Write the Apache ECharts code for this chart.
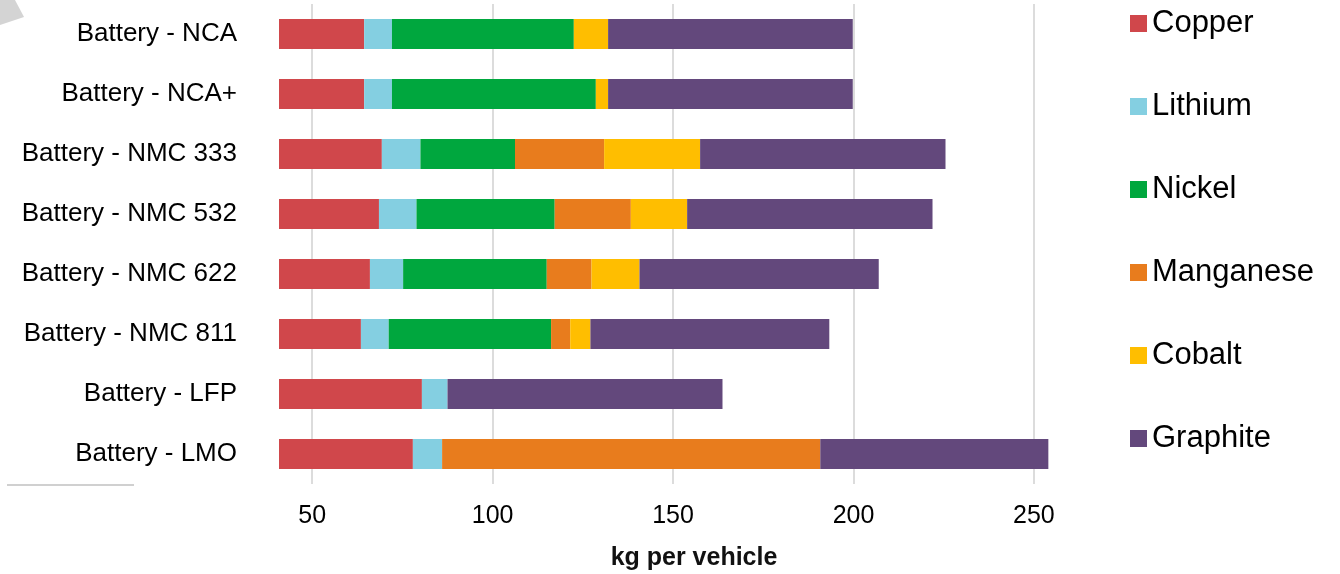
<!DOCTYPE html>
<html>
<head>
<meta charset="utf-8">
<script src="https://cdn.jsdelivr.net/npm/echarts@6/dist/echarts.min.js"></script>
<style>
  html, body { margin: 0; padding: 0; background: #fff; }
  #main { width: 1340px; height: 574px; }
</style>
</head>
<body>
<div id="main"></div>
<script>
var categories = ['Battery - NCA', 'Battery - NCA+', 'Battery - NMC 333', 'Battery - NMC 532',
  'Battery - NMC 622', 'Battery - NMC 811', 'Battery - LFP', 'Battery - LMO'];

// kg per vehicle, one value per battery type (stacked)
var copper    = [64.4, 64.4, 69.3, 68.5, 66.0, 63.5, 80.4, 77.9];
var lithium   = [7.7, 7.7, 10.7, 10.4, 9.2, 7.7, 7.1, 8.1];
var nickel    = [50.4, 56.5, 26.2, 38.3, 39.8, 45.0, 0, 0];
var manganese = [0, 0, 24.7, 21.1, 12.4, 5.3, 0, 104.8];
var cobalt    = [9.5, 3.4, 26.6, 15.6, 13.3, 5.6, 0, 0];
var graphite  = [67.8, 67.8, 68.0, 68.0, 66.3, 66.2, 76.2, 63.2];

var seriesNames = ['Copper', 'Lithium', 'Nickel', 'Manganese', 'Cobalt', 'Graphite'];
var seriesData = [copper, lithium, nickel, manganese, cobalt, graphite];
var colors = ['#d0474b', '#84cfe1', '#00a73e', '#e87c1d', '#ffbe00', '#63487c'];

var FONT = 'Liberation Sans, Arial, Helvetica, sans-serif';

var myChart = echarts.init(document.getElementById('main'));

var series = seriesNames.map(function (name, i) {
  return {
    name: name,
    type: 'bar',
    stack: 'total',
    barWidth: 30,
    data: seriesData[i]
  };
});

var option = {
  animation: false,
  color: colors,
  textStyle: { fontFamily: FONT },
  grid: {
    left: 279,
    right: 270,
    top: 4,
    bottom: 90,
    outerBoundsMode: 'none'
  },
  legend: {
    orient: 'vertical',
    left: 1125,
    top: 3,
    icon: 'rect',
    itemWidth: 17,
    itemHeight: 17,
    itemGap: 52,
    textStyle: {
      fontFamily: FONT,
      fontSize: 31,
      lineHeight: 30,
      color: '#000'
    },
    data: seriesNames
  },
  xAxis: {
    type: 'value',
    min: 40.8,
    max: 260,
    name: 'kg per vehicle',
    nameLocation: 'middle',
    nameGap: 62,
    nameTextStyle: {
      fontFamily: FONT,
      fontSize: 25,
      fontWeight: 'bold',
      color: '#111',
      padding: [0, 0, 0, 39]
    },
    axisLine: { show: false },
    axisTick: { show: false },
    axisLabel: {
      fontSize: 25,
      color: '#000',
      margin: 20,
      showMinLabel: false,
      showMaxLabel: false
    },
    splitLine: {
      show: true,
      showMinLine: false,
      showMaxLine: false,
      lineStyle: { color: '#dcdcdc', width: 2 }
    }
  },
  yAxis: {
    type: 'category',
    inverse: true,
    data: categories,
    axisLine: { show: false },
    axisTick: { show: false },
    axisLabel: {
      fontSize: 26,
      color: '#000',
      margin: 42
    }
  },
  graphic: [{
    type: 'polygon',
    shape: { points: [[0, 0], [15, 0], [24, 17], [0, 25]] },
    style: { fill: '#d4d4d4' }
  }, {
    type: 'line',
    shape: { x1: 7, y1: 485, x2: 134, y2: 485 },
    style: { stroke: '#d0d0d0', lineWidth: 2 }
  }],
  series: series
};

myChart.setOption(option);
</script>
</body>
</html>
